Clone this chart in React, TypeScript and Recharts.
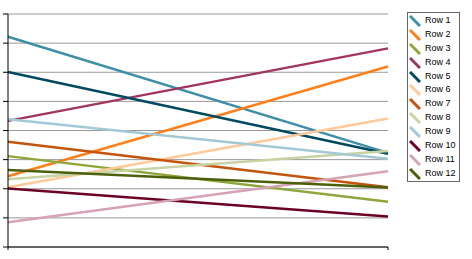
import React from "react";
import { LineChart, Line, XAxis, YAxis, CartesianGrid, Legend } from "recharts";

const categories = ["Column 1", "Column 2"];
const seriesNames = ["Row 1", "Row 2", "Row 3", "Row 4", "Row 5", "Row 6", "Row 7", "Row 8", "Row 9", "Row 10", "Row 11", "Row 12"];
const startValues = [7.22, 2.43, 3.12, 4.33, 6.01, 2.05, 3.61, 2.33, 4.39, 2.01, 0.85, 2.64];
const endValues = [3.23, 6.2, 1.55, 6.82, 3.2, 4.41, 2.05, 3.3, 3.03, 1.05, 2.6, 2.04];
const colors = ["#3f8fa8", "#ff7f1a", "#8ea63a", "#a0365f", "#004a5f", "#ffc999", "#c4540a", "#c8d3a3", "#a4c9d6", "#6a0026", "#d6a3b5", "#4c5f0b"];
const yTicks = [0, 1, 2, 3, 4, 5, 6, 7, 8];

const data = categories.map((c, i) => {
  const row: Record<string, string | number> = { name: c };
  seriesNames.forEach((s, k) => {
    row[s] = i === 0 ? startValues[k] : endValues[k];
  });
  return row;
});

const LegendBox = () => (
  <div
    style={{
      position: "absolute",
      left: 407,
      top: 12,
      width: 53,
      height: 170,
      border: "1px solid #666",
      boxSizing: "border-box",
      background: "#fff",
      paddingTop: 1,
      fontFamily: "'Liberation Sans', Arial, sans-serif",
      fontSize: 9,
      color: "#000",
    }}
  >
    {seriesNames.map((s, i) => (
      <div key={s} style={{ height: 13.9, display: "flex", alignItems: "center", position: "relative" }}>
        <svg width={12} height={12} style={{ position: "absolute", left: 1, top: 1 }}>
          <line x1={1} y1={1} x2={11} y2={11} stroke={colors[i]} strokeWidth={3} />
        </svg>
        <span style={{ position: "absolute", left: 17, lineHeight: "13.9px", top: 0 }}>{s}</span>
      </div>
    ))}
  </div>
);

export default function App() {
  return (
    <div style={{ width: 472, height: 259, position: "relative", background: "#fff" }}>
      <style>{"body{margin:0}"}</style>
      <LineChart width={472} height={259} data={data} margin={{ top: 14, right: 84, bottom: 0, left: 0 }}>
        <CartesianGrid vertical={false} stroke="#999" strokeWidth={1} />
        <XAxis
          dataKey="name"
          height={12}
          tickSize={3}
          tickFormatter={() => ""}
          axisLine={{ stroke: "#000" }}
          tickLine={{ stroke: "#000" }}
          interval={0}
        />
        <YAxis
          width={8}
          domain={[0, 8]}
          ticks={yTicks}
          tickSize={5}
          tickFormatter={() => ""}
          axisLine={{ stroke: "#000" }}
          tickLine={{ stroke: "#000" }}
          interval={0}
        />
        {seriesNames.map((s, i) => (
          <Line
            key={s}
            type="linear"
            dataKey={s}
            stroke={colors[i]}
            strokeWidth={2.5}
            dot={false}
            activeDot={false}
            isAnimationActive={false}
          />
        ))}
        <Legend content={() => <LegendBox />} wrapperStyle={{ position: "absolute", left: 0, top: 0, width: 0, height: 0 }} />
      </LineChart>
    </div>
  );
}
